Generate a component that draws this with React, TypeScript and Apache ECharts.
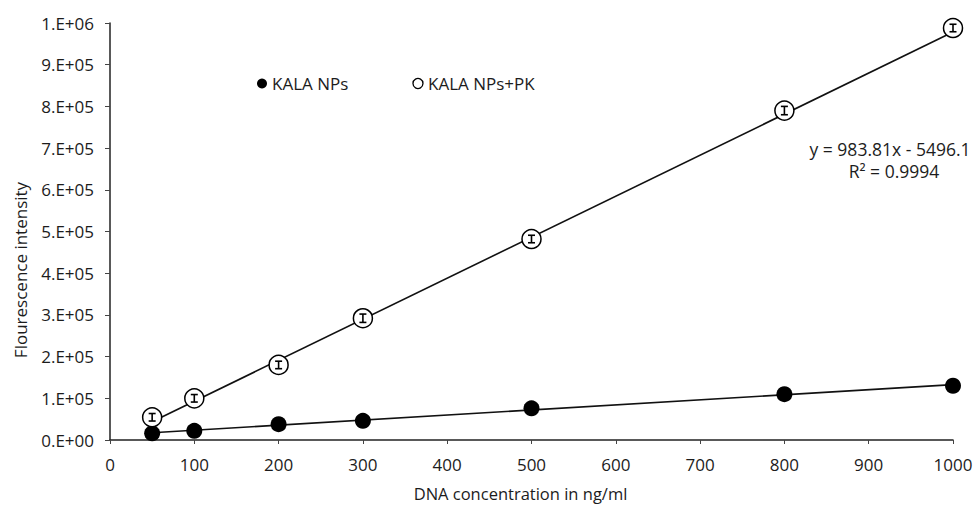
import React, { useEffect, useRef } from "react";
import * as echarts from "echarts";

const concentrations = [50, 100, 200, 300, 500, 800, 1000];
const kalaNPs = [16000, 22000, 38000, 46000, 76000, 110000, 130000];
const kalaNPsPK = [54500, 100000, 180000, 292000, 482000, 790000, 988000];
const kalaNPsPKErr = [9000, 9000, 9000, 10000, 9000, 10000, 9000];
const fitSlope = 983.81;
const fitIntercept = -5496.1;
const fitR2 = 0.9994;
const xTicks = { min: 0, max: 1000, interval: 100 };
const yTicks = { min: 0, max: 1000000, interval: 100000 };

const FONT = "Open Sans";
const INK = "#1c1c1c";

function sciLabel(v: number): string {
  if (v === 0) return "0.E+00";
  const e = Math.floor(Math.log10(v) + 1e-9);
  const m = Math.round(v / Math.pow(10, e));
  return `${m}.E+${String(e).padStart(2, "0")}`;
}

function leastSquares(xs: number[], ys: number[]) {
  const n = xs.length;
  const mx = xs.reduce((a, b) => a + b, 0) / n;
  const my = ys.reduce((a, b) => a + b, 0) / n;
  let num = 0;
  let den = 0;
  for (let i = 0; i < n; i++) {
    num += (xs[i] - mx) * (ys[i] - my);
    den += (xs[i] - mx) * (xs[i] - mx);
  }
  const slope = num / den;
  return { slope, intercept: my - slope * mx };
}

export default function App() {
  const ref = useRef<HTMLDivElement>(null);
  useEffect(() => {
    document.body.style.margin = "0";
    if (!ref.current) return;
    const chart = echarts.init(ref.current, undefined, { renderer: "svg" });
    const x0 = concentrations[0];
    const x1 = concentrations[concentrations.length - 1];
    const lf = leastSquares(concentrations, kalaNPs);
    const openFit = [
      [x0, fitSlope * x0 + fitIntercept],
      [x1, fitSlope * x1 + fitIntercept],
    ];
    const filledFit = [
      [x0, lf.slope * x0 + lf.intercept],
      [x1, lf.slope * x1 + lf.intercept],
    ];
    const filledData = concentrations.map((x, i) => [x, kalaNPs[i]]);
    const openData = concentrations.map((x, i) => [x, kalaNPsPK[i]]);
    const errData = concentrations.map((x, i) => [x, kalaNPsPK[i], kalaNPsPKErr[i]]);

    chart.setOption({
      animation: false,
      backgroundColor: "#ffffff",
      textStyle: { fontFamily: FONT, color: INK },
      grid: { left: 110, right: 23, top: 23, bottom: 67, outerBoundsMode: "none", containLabel: false },
      legend: {
        left: 252,
        top: 70,
        itemGap: 64,
        itemWidth: 10,
        itemHeight: 10,
        textStyle: { fontFamily: FONT, fontSize: 17, color: INK },
        data: [
          { name: "KALA NPs", icon: "circle", itemStyle: { color: "#000" } },
          {
            name: "KALA NPs+PK",
            icon: "circle",
            itemStyle: { color: "#fff", borderColor: "#000", borderWidth: 1.3 },
          },
        ],
      },
      xAxis: {
        type: "value",
        min: xTicks.min,
        max: xTicks.max,
        interval: xTicks.interval,
        name: "DNA concentration in ng/ml",
        nameLocation: "middle",
        nameGap: 45,
        nameTextStyle: { fontFamily: FONT, fontSize: 16.5, color: INK, padding: [0, 22, 0, 0] },
        axisLine: { lineStyle: { color: "#222", width: 1.5 } },
        axisTick: { show: true, length: 4, lineStyle: { color: "#444" } },
        axisLabel: {
          fontFamily: FONT,
          fontSize: 17,
          color: INK,
          margin: 16,
          formatter: (v: number) => String(v),
        },
        splitLine: { show: false },
      },
      yAxis: {
        type: "value",
        min: yTicks.min,
        max: yTicks.max,
        interval: yTicks.interval,
        axisLine: { show: true, lineStyle: { color: "#222", width: 1.5 } },
        axisTick: { show: true, length: 5, lineStyle: { color: "#444" } },
        axisLabel: {
          fontFamily: FONT,
          fontSize: 17,
          color: INK,
          margin: 16,
          formatter: (v: number) => sciLabel(v),
        },
        splitLine: { show: false },
      },
      graphic: [
        {
          type: "text",
          x: 20,
          y: 270,
          rotation: Math.PI / 2,
          style: {
            text: "Flourescence intensity",
            fontFamily: FONT,
            fontSize: 17,
            fill: INK,
            align: "center",
            verticalAlign: "middle",
          },
        },
        {
          type: "text",
          x: 890,
          y: 140,
          style: {
            text: `y = ${fitSlope}x - ${Math.abs(fitIntercept)}`,
            fontFamily: FONT,
            fontSize: 17.5,
            fill: INK,
            align: "center",
          },
        },
        {
          type: "text",
          x: 894,
          y: 162,
          style: {
            text: `R\u00B2 = ${fitR2}`,
            fontFamily: FONT,
            fontSize: 17.5,
            fill: INK,
            align: "center",
          },
        },
      ],
      series: [
        {
          name: "fit-filled",
          type: "line",
          data: filledFit,
          symbol: "none",
          lineStyle: { color: "#111", width: 1.6 },
          z: 1,
          silent: true,
        },
        {
          name: "fit-open",
          type: "line",
          data: openFit,
          symbol: "none",
          lineStyle: { color: "#111", width: 1.6 },
          z: 1,
          silent: true,
        },
        {
          name: "KALA NPs",
          type: "scatter",
          data: filledData,
          symbol: "circle",
          symbolSize: 16,
          itemStyle: { color: "#000", opacity: 1 },
          z: 3,
        },
        {
          name: "KALA NPs+PK",
          type: "scatter",
          data: openData,
          symbol: "circle",
          symbolSize: 19,
          itemStyle: { color: "#fff", borderColor: "#000", borderWidth: 1.5, opacity: 1 },
          z: 3,
        },
        {
          name: "err",
          type: "custom",
          data: errData,
          z: 4,
          silent: true,
          renderItem: (params: any, api: any) => {
            const x = api.value(0);
            const y = api.value(1);
            const e = api.value(2);
            const top = api.coord([x, y + e]);
            const bot = api.coord([x, y - e]);
            const style = { stroke: "#000", lineWidth: 1.6 };
            const hw = 3.5;
            return {
              type: "group",
              children: [
                { type: "line", shape: { x1: top[0], y1: top[1], x2: bot[0], y2: bot[1] }, style },
                { type: "line", shape: { x1: top[0] - hw, y1: top[1], x2: top[0] + hw, y2: top[1] }, style },
                { type: "line", shape: { x1: bot[0] - hw, y1: bot[1], x2: bot[0] + hw, y2: bot[1] }, style },
              ],
            };
          },
        },
      ],
    });
    return () => chart.dispose();
  }, []);
  return <div ref={ref} style={{ width: 976, height: 507 }} />;
}
